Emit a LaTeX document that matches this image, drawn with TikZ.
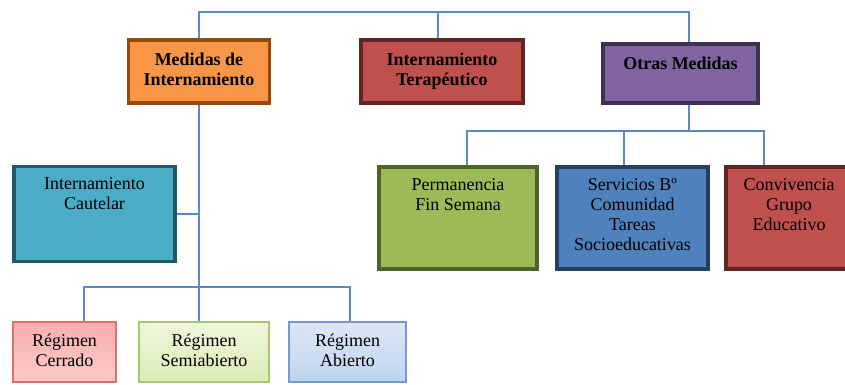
\documentclass[tikz,border=0pt]{standalone}
\usepackage{fontspec}
\setmainfont{Liberation Serif}
\usepackage{xcolor}
\usepackage{tikz}
\usetikzlibrary{positioning,calc}

\definecolor{linkblue}{HTML}{5A8AC6}
\definecolor{orangefill}{HTML}{F79646}
\definecolor{orangeline}{HTML}{984807}
\definecolor{redfill}{HTML}{C0504D}
\definecolor{redline}{HTML}{632523}
\definecolor{purplefill}{HTML}{8064A2}
\definecolor{purpleline}{HTML}{3F3151}
\definecolor{aquafill}{HTML}{4BACC6}
\definecolor{aqualine}{HTML}{215968}
\definecolor{greenfill}{HTML}{9BBB59}
\definecolor{greenline}{HTML}{4F6228}
\definecolor{bluefill}{HTML}{4F81BD}
\definecolor{blueline}{HTML}{243F60}
\definecolor{cerrtop}{HTML}{F6AFAE}
\definecolor{cerrbot}{HTML}{FBCACA}
\definecolor{cerrline}{HTML}{E06F6C}
\definecolor{semitop}{HTML}{EEF7DC}
\definecolor{semibot}{HTML}{D9EBB4}
\definecolor{semiline}{HTML}{A9C86C}
\definecolor{abietop}{HTML}{DCE7F7}
\definecolor{abiebot}{HTML}{BFD3EF}
\definecolor{abieline}{HTML}{729BD3}

\begin{document}
\begin{tikzpicture}[
    bigbox/.style={draw, line width=2.8pt, rectangle},
    smallbox/.style={draw, line width=1.4pt, rectangle, minimum height=1.5cm},
    txt/.style={anchor=north, align=center, inner sep=0pt, font=\fontsize{12.8}{14.2}\selectfont},
    bold/.style={txt, font=\fontsize{12.8}{14.2}\selectfont\bfseries},
    conn/.style={draw=linkblue, line width=1.2pt}
]
    \path[use as bounding box, clip] (0,0) rectangle (21.125,-9.625);

    \coordinate (topbar) at (0,-0.3);
    \coordinate (midbar) at (0,-3.275);
    \coordinate (botbar) at (0,-7.175);

    % first level
    \node [bigbox, fill=orangefill, draw=orangeline, minimum width=3.525cm, minimum height=1.575cm] (med) at (4.975,-1.7875) {};
    \node [bigbox, fill=redfill, draw=redline, minimum width=4.05cm, minimum height=1.575cm] (ter) at (11.05,-1.7875) {};
    \node [bigbox, fill=purplefill, draw=purpleline, minimum width=3.875cm, minimum height=1.475cm] (otras) at (17.0125,-1.8375) {};
    \node [bold] (medT) at ([yshift=-0.36cm]med.north) {Medidas de\\Internamiento};
    \node [bold] (terT) at ([yshift=-0.36cm]ter.north) {Internamiento\\Terapéutico};
    \node [bold] (otrasT) at ([yshift=-0.36cm]otras.north) {Otras Medidas};

    % second level
    \node [bigbox, fill=aquafill, draw=aqualine, minimum width=4.025cm, minimum height=2.375cm] (caut) at (2.3625,-5.35) {};
    \node [bigbox, fill=greenfill, draw=greenline, minimum width=3.95cm, minimum height=2.55cm] (perm) at (11.45,-5.45) {};
    \node [bigbox, fill=bluefill, draw=blueline, minimum width=3.775cm, minimum height=2.55cm] (serv) at (15.8125,-5.45) {};
    \node [bigbox, fill=redfill, draw=redline, minimum width=3.15cm, minimum height=2.55cm] (conv) at (19.725,-5.45) {};
    \node [txt] (cautT) at ([yshift=-0.33cm]caut.north) {Internamiento\\Cautelar};
    \node [txt] (permT) at ([yshift=-0.33cm]perm.north) {Permanencia\\Fin Semana};
    \node [txt] (servT) at ([yshift=-0.33cm]serv.north) {Servicios Bº\\Comunidad\\Tareas\\Socioeducativas};
    \node [txt] (convT) at ([yshift=-0.33cm]conv.north) {Convivencia\\Grupo\\Educativo};

    % regimes
    \node [smallbox, top color=cerrtop, bottom color=cerrbot, draw=cerrline, minimum width=2.575cm] (cerr) at (1.6125,-8.8) {};
    \node [smallbox, top color=semitop, bottom color=semibot, draw=semiline, minimum width=3.25cm] (semi) at (5.1,-8.8) {};
    \node [smallbox, top color=abietop, bottom color=abiebot, draw=abieline, minimum width=2.925cm] (abie) at (8.6875,-8.8) {};
    \node [txt] (cerrT) at ([yshift=-0.315cm]cerr.north) {Régimen\\Cerrado};
    \node [txt] (semiT) at ([yshift=-0.315cm]semi.north) {Régimen\\Semiabierto};
    \node [txt] (abieT) at ([yshift=-0.315cm]abie.north) {Régimen\\Abierto};

    % connectors
    \draw [conn] (med.north) -- (med.north |- topbar) -- ([xshift=0.2125cm]otras.north |- topbar) -- ([xshift=0.2125cm]otras.north);
    \draw [conn] ([xshift=-0.1cm]ter.north) -- ([xshift=-0.1cm]ter.north |- topbar);
    \draw [conn] (med.south) -- (med.south |- semi.north);
    \draw [conn] (caut.east) -- (caut.east -| med.south);
    \draw [conn] ([xshift=0.2125cm]otras.south) -- ([xshift=0.2125cm]otras.south |- midbar);
    \draw [conn] ([xshift=0.225cm]perm.north) -- ([xshift=0.225cm]perm.north |- midbar) -- ([xshift=-0.625cm]conv.north |- midbar) -- ([xshift=-0.625cm]conv.north);
    \draw [conn] ([xshift=-0.2125cm]serv.north) -- ([xshift=-0.2125cm]serv.north |- midbar);
    \draw [conn] ([xshift=0.4875cm]cerr.north) -- ([xshift=0.4875cm]cerr.north |- botbar) -- ([xshift=0.0625cm]abie.north |- botbar) -- ([xshift=0.0625cm]abie.north);
\end{tikzpicture}
\end{document}
